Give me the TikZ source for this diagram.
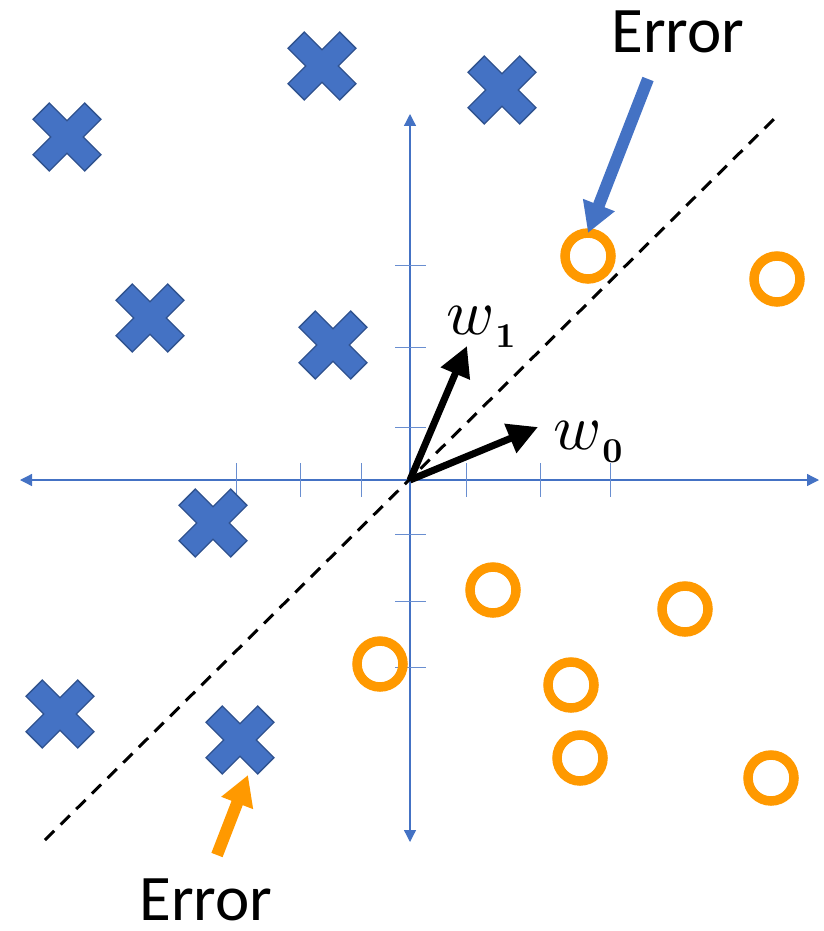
\documentclass[tikz,border=0pt]{standalone}
\usepackage{graphicx}
\usepackage{fontspec}
\setmainfont{Carlito}
\usetikzlibrary{arrows.meta}
\definecolor{xblue}{HTML}{4472C4}
\definecolor{xborder}{HTML}{2F528F}
\definecolor{oorange}{HTML}{FF9900}
\definecolor{axblue}{HTML}{4472C4}
\newcommand{\wlab}[1]{\scalebox{6.5}{$w$}\hspace{1pt}\raisebox{-13pt}{\scalebox{3.5}{$\boldsymbol{#1}$}}}
\usepackage{amsmath}
\tikzset{
  axisline/.style={draw=axblue, line width=1.3pt, -{Triangle[length=12pt,width=12pt]}},
  tickline/.style={draw=axblue!80, line width=1pt},
  ring/.style={draw=oorange, line width=9.5pt},
  vecarrow/.style={draw=black, line width=7pt, -{Triangle[length=30pt,width=30pt]}},
  errblue/.style={draw=xblue, line width=12pt, -{Triangle[length=30pt,width=32pt]}},
  errorange/.style={draw=oorange, line width=12pt, -{Triangle[length=30pt,width=32pt]}},
  errtext/.style={font=\fontsize{65}{65}\selectfont, inner sep=0pt},
  mathlabel/.style={inner sep=0pt},
  cross/.pic={
    \filldraw[fill=xblue, draw=xborder, line width=1.3pt, rotate=45]
      (36.5,11.5) -- (11.5,11.5) -- (11.5,36.5) -- (-11.5,36.5) -- (-11.5,11.5)
      -- (-36.5,11.5) -- (-36.5,-11.5) -- (-11.5,-11.5) -- (-11.5,-36.5)
      -- (11.5,-36.5) -- (11.5,-11.5) -- (36.5,-11.5) -- cycle;
  }
}
\begin{document}
\begin{tikzpicture}[x=1pt,y=-1pt]
\useasboundingbox (0,0) rectangle (823,931);
% axes
\coordinate (O) at (410,480);
\coordinate (xl) at (20,480);
\coordinate (xr) at (819,480);
\coordinate (yt) at (410,114);
\coordinate (yb) at (410,842);
\draw[axisline] (O) -- (xl);
\draw[axisline] (O) -- (xr);
\draw[axisline] (O) -- (yt);
\draw[axisline] (O) -- (yb);
% ticks
\foreach \x in {236,300,361,466,540,610} {
  \draw[tickline] (\x,463) -- (\x,497);
}
\foreach \y in {265,347,427,534,601,667} {
  \draw[tickline] (395,\y) -- (426,\y);
}
% dashed boundary
\coordinate (d1) at (45,840);
\coordinate (d2) at (775,118);
\draw[black, line width=3pt, dash pattern=on 13pt off 9pt] (d1) -- (d2);
% crosses
\foreach \cx/\cy in {67/137, 322/66, 502/90, 150/318, 333/345, 213/523, 60/714, 240/740} {
  \pic at (\cx,\cy) {cross};
}
% rings
\foreach \cx/\cy [count=\i] in {588/256, 777/279, 493/590, 685/609, 380/664, 571/685, 580/758, 771/778} {
  \node[circle, minimum size=46pt, inner sep=0pt, ring] (c\i) at (\cx,\cy) {};
}
% vectors
\coordinate (w0tip) at (538,427);
\coordinate (w1tip) at (467,346);
\draw[vecarrow] (O) -- (w0tip);
\draw[vecarrow] (O) -- (w1tip);
\node[mathlabel, anchor=base west] (w1lab) at (446,334) {\wlab{1}};
\node[mathlabel, anchor=base west] (w0lab) at (553,449) {\wlab{0}};
% error labels
\node[errtext] (errtop) at (678,32) {Error};
\node[errtext] (errbot) at (206,900) {Error};
\coordinate (bt) at (648,79);
\coordinate (btip) at (588,233);
\coordinate (ot) at (217,855);
\coordinate (otip) at (248,775);
\draw[errblue] (bt) -- (btip);
\draw[errorange] (ot) -- (otip);
\end{tikzpicture}
\end{document}
